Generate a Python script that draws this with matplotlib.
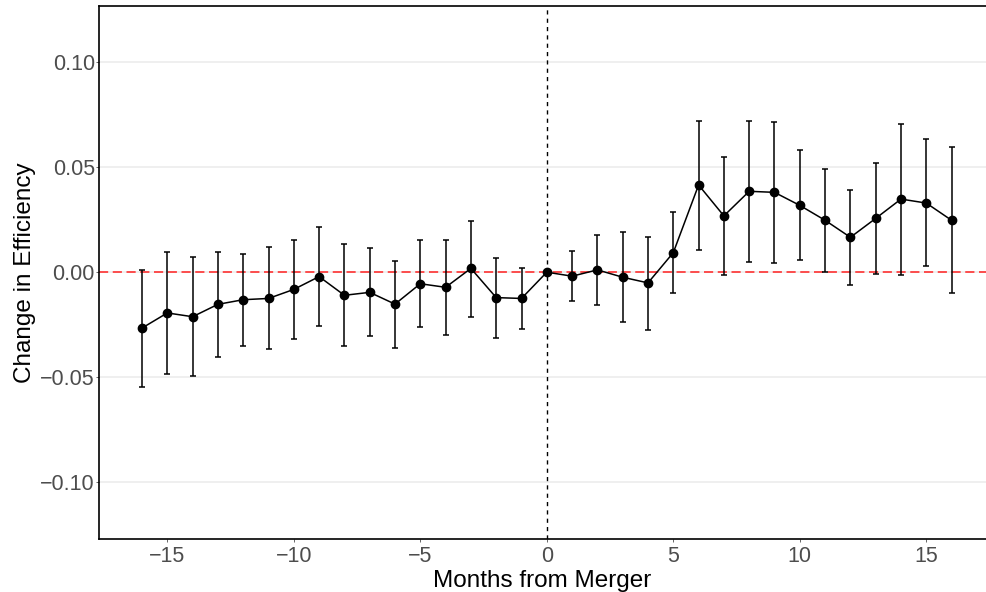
import numpy as np
import matplotlib.pyplot as plt
from matplotlib.ticker import MultipleLocator, FixedLocator

plt.rcParams['font.family'] = ['Liberation Sans', 'DejaVu Sans']

# event-study estimates, months relative to merger
months = np.arange(-16, 17)
coef = [-0.0266, -0.0194, -0.0212, -0.0153, -0.0131, -0.0125, -0.0082, -0.0021,
        -0.0110, -0.0096, -0.0152, -0.0055, -0.0072, 0.0018, -0.0121, -0.0125,
        0.0000,
        -0.0019, 0.0011, -0.0024, -0.0051, 0.0093, 0.0415, 0.0268, 0.0385,
        0.0380, 0.0318, 0.0247, 0.0166, 0.0256, 0.0348, 0.0329, 0.0247]
upper = [0.0012, 0.0097, 0.0072, 0.0094, 0.0088, 0.0118, 0.0151, 0.0213,
         0.0132, 0.0117, 0.0055, 0.0153, 0.0153, 0.0246, 0.0066, 0.0021,
         0.0000,
         0.0100, 0.0176, 0.0190, 0.0169, 0.0286, 0.0721, 0.0548, 0.0719,
         0.0716, 0.0582, 0.0489, 0.0389, 0.0521, 0.0707, 0.0633, 0.0596]
lower = [-0.0545, -0.0486, -0.0493, -0.0402, -0.0350, -0.0367, -0.0317, -0.0256,
         -0.0352, -0.0304, -0.0359, -0.0260, -0.0298, -0.0214, -0.0311, -0.0269,
         0.0000,
         -0.0138, -0.0154, -0.0239, -0.0274, -0.0101, 0.0104, -0.0014, 0.0048,
         0.0043, 0.0057, 0.0003, -0.0061, -0.0008, -0.0014, 0.0029, -0.0101]

coef = np.array(coef)
yerr = np.vstack([coef - np.array(lower), np.array(upper) - coef])

fig = plt.figure(figsize=(9.86, 5.92), dpi=100)
ax = fig.add_axes([99 / 986, 53 / 592, 887 / 986, 533 / 592])

ax.axhline(0, color='#FF2020', linewidth=1.1, dashes=(6, 3), zorder=2)
ax.axvline(0, color='black', linewidth=1.0, dashes=(3, 3), zorder=2)

# error bars (no caps at the reference month)
has_ci = np.array(upper) != np.array(lower)
ax.errorbar(months[has_ci], coef[has_ci], yerr=yerr[:, has_ci], fmt='none',
            ecolor='black', elinewidth=1.1, capsize=1.9, capthick=1.1, zorder=3)
ax.plot(months, coef, color='black', linewidth=1.1, marker='o',
        markersize=6.0, zorder=4)

ax.set_xlim(-17.7, 17.36)
ax.set_ylim(-0.127, 0.1267)
ax.xaxis.set_major_locator(MultipleLocator(5))
ax.yaxis.set_major_locator(FixedLocator([-0.10, -0.05, 0.0, 0.05, 0.10]))
ax.set_yticklabels(['\u22120.10', '\u22120.05', '0.00', '0.05', '0.10'])
ax.set_xticks([-15, -10, -5, 0, 5, 10, 15])
ax.set_xticklabels(['\u221215', '\u221210', '\u22125', '0', '5', '10', '15'])

ax.grid(axis='y', color='#EBEBEB', linewidth=1.1)
ax.set_axisbelow(True)
ax.tick_params(axis='both', length=2, width=0.6, colors='#4D4D4D',
               labelsize=15.5)
ax.tick_params(axis='y', pad=1)
ax.tick_params(axis='x', pad=3)

for side in ['left', 'top', 'bottom']:
    ax.spines[side].set_linewidth(1.2)
    ax.spines[side].set_color('black')
ax.spines['right'].set_visible(False)

ax.set_xlabel('Months from Merger', fontsize=17.5, labelpad=2)
ax.set_ylabel('Change in Efficiency', fontsize=17.5, labelpad=3)

fig.savefig('out.png', dpi=100)
